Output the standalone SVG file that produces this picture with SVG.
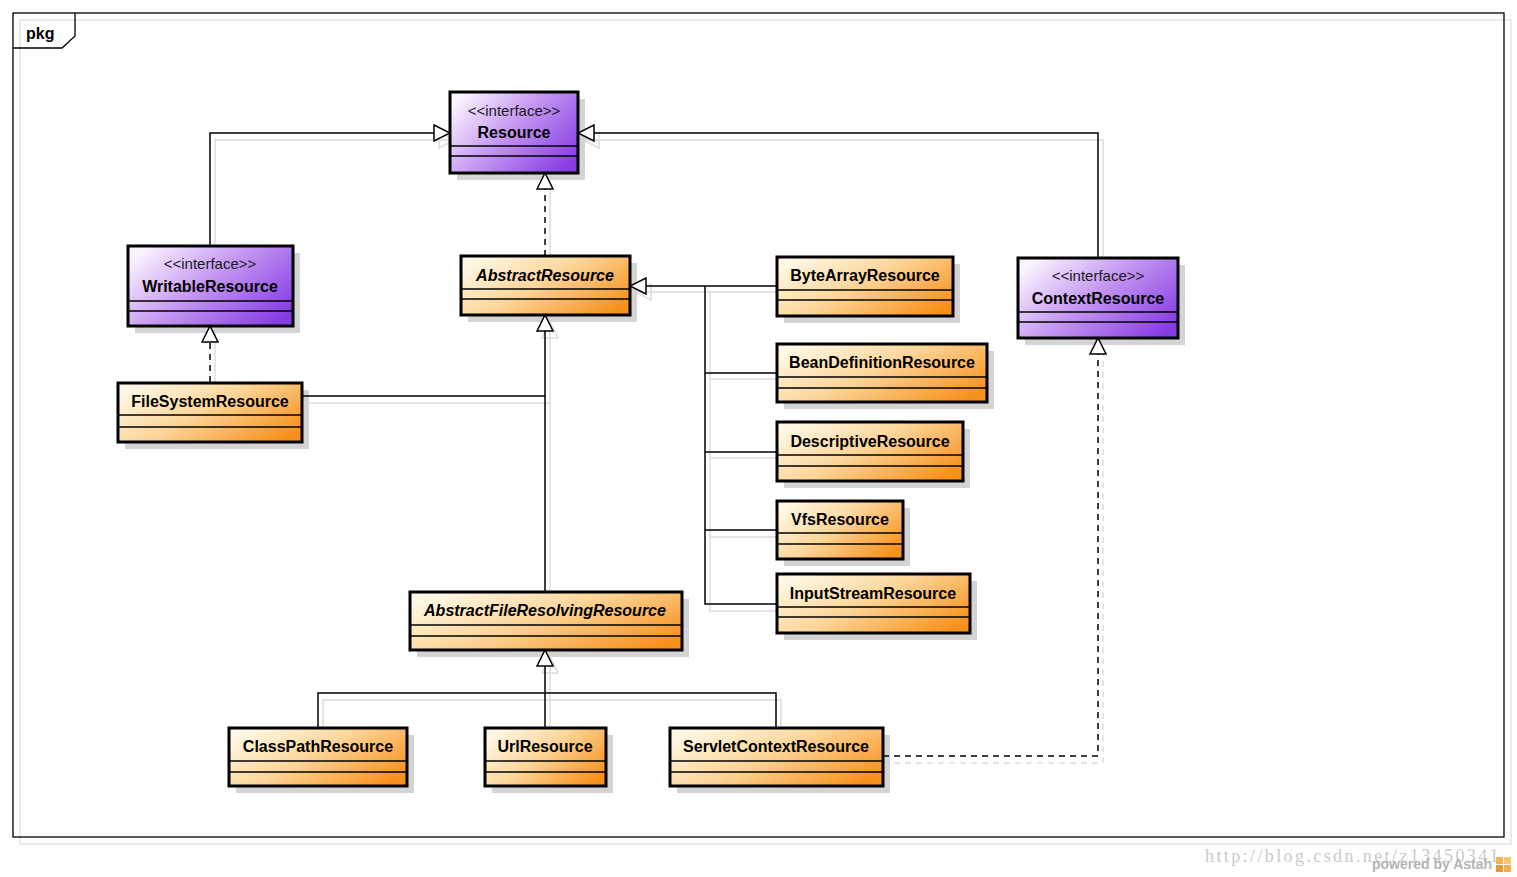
<svg xmlns="http://www.w3.org/2000/svg" width="1517" height="877" viewBox="0 0 1517 877">
<defs>
<linearGradient id="gO" x1="0" y1="0.2" x2="1" y2="0.8">
<stop offset="0" stop-color="#fff8e6"/>
<stop offset="0.45" stop-color="#fcd69a"/>
<stop offset="1" stop-color="#f7901a"/>
</linearGradient>
<linearGradient id="gP" x1="0" y1="0.2" x2="1" y2="0.8">
<stop offset="0" stop-color="#faf4ff"/>
<stop offset="0.45" stop-color="#c699f2"/>
<stop offset="1" stop-color="#873ce2"/>
</linearGradient>
<marker id="gen" viewBox="0 0 18 18" refX="17" refY="9" markerWidth="18" markerHeight="18" markerUnits="userSpaceOnUse" orient="auto">
<path d="M1,1 L17,9 L1,17 Z" fill="#fff" stroke="#000" stroke-width="1.5"/>
</marker>
<marker id="genS" viewBox="0 0 18 18" refX="17" refY="9" markerWidth="18" markerHeight="18" markerUnits="userSpaceOnUse" orient="auto">
<path d="M1,1 L17,9 L1,17 Z" fill="none" stroke="#dcdcdc" stroke-width="1.5"/>
</marker>
</defs>
<style>
.frame{fill:none;stroke:#000;stroke-width:1.3}
.fshadow{fill:none;stroke:#d6d6d6;stroke-width:1}
.sh{fill:#d4d4d4}
.box{stroke:#000;stroke-width:3}
.o{fill:url(#gO)}
.p{fill:url(#gP)}
.sep{stroke:#000;stroke-width:1.5}
.name{font-family:"Liberation Sans",Arial,sans-serif;font-size:16px;font-weight:bold;fill:#000;text-anchor:middle}
.abs{font-style:italic}
.st{font-family:"Liberation Sans",Arial,sans-serif;font-size:15px;fill:#1a1a1a;text-anchor:middle}
.c{fill:none;stroke:#000;stroke-width:1.5}
.d{stroke-dasharray:6,5}
.cs{fill:none;stroke:#dcdcdc;stroke-width:1.5}
.pkg{font-family:"Liberation Sans",Arial,sans-serif;font-size:16px;font-weight:bold;fill:#000}
.wm{font-family:"Liberation Serif","Times New Roman",serif;font-size:18px;letter-spacing:2.4px;fill:#cacaca}
.pw{font-family:"Liberation Sans",Arial,sans-serif;font-size:14px;font-weight:bold;fill:#b4b4b4}
</style>
<rect width="1517" height="877" fill="#fff"/>
<rect class="fshadow" x="20" y="20" width="1491" height="824"/>
<rect class="frame" x="13" y="13" width="1491" height="824"/>
<path class="frame" d="M13,48 L62,48 L75,36 L75,13"/>
<text class="pkg" x="26" y="39">pkg</text>

<g id="connector-shadows">
<path class="cs" d="M215,245 V140 H455" marker-end="url(#genS)"/>
<path class="cs" d="M1103,258 V140 H583" marker-end="url(#genS)"/>
<path class="cs" d="M550,256 V180"/>
<path class="cs" d="M215,382 V333"/>
<path class="cs" d="M302,403 H550 V322" marker-end="url(#genS)"/>
<path class="cs" d="M550,592 V403"/>
<path class="cs" d="M777,292 H635" marker-end="url(#genS)"/>
<path class="cs" d="M710,292 V611 H777"/>
<path class="cs" d="M710,379 H777 M710,458 H777 M710,537 H777"/>
<path class="cs" d="M550,728 V657" marker-end="url(#genS)"/>
<path class="cs" d="M323,728 V700 H781 V728"/>
<path class="cs d" d="M883,763 H1103 V345"/>
</g>

<g id="n-resource">
<rect class="sh" x="457" y="99" width="128" height="81"/>
<rect class="box p" x="450" y="92" width="128" height="81"/>
<line class="sep" x1="450" y1="146" x2="578" y2="146"/>
<line class="sep" x1="450" y1="156" x2="578" y2="156"/>
<text class="st" x="514" y="116">&lt;&lt;interface&gt;&gt;</text>
<text class="name" x="514" y="138">Resource</text>
</g>
<g id="n-writable">
<rect class="sh" x="135" y="253" width="165" height="80"/>
<rect class="box p" x="128" y="246" width="165" height="80"/>
<line class="sep" x1="128" y1="301" x2="293" y2="301"/>
<line class="sep" x1="128" y1="311" x2="293" y2="311"/>
<text class="st" x="210" y="269">&lt;&lt;interface&gt;&gt;</text>
<text class="name" x="210" y="292">WritableResource</text>
</g>
<g id="n-context">
<rect class="sh" x="1025" y="265" width="160" height="80"/>
<rect class="box p" x="1018" y="258" width="160" height="80"/>
<line class="sep" x1="1018" y1="312" x2="1178" y2="312"/>
<line class="sep" x1="1018" y1="322" x2="1178" y2="322"/>
<text class="st" x="1098" y="281">&lt;&lt;interface&gt;&gt;</text>
<text class="name" x="1098" y="304">ContextResource</text>
</g>
<g id="n-abstract">
<rect class="sh" x="468" y="263" width="169" height="59"/>
<rect class="box o" x="461" y="256" width="169" height="59"/>
<line class="sep" x1="461" y1="289" x2="630" y2="289"/>
<line class="sep" x1="461" y1="299" x2="630" y2="299"/>
<text class="name abs" x="545" y="281">AbstractResource</text>
</g>
<g id="n-bytearray">
<rect class="sh" x="784" y="264" width="176" height="59"/>
<rect class="box o" x="777" y="257" width="176" height="59"/>
<line class="sep" x1="777" y1="290" x2="953" y2="290"/>
<line class="sep" x1="777" y1="300" x2="953" y2="300"/>
<text class="name" x="865" y="281">ByteArrayResource</text>
</g>
<g id="n-beandef">
<rect class="sh" x="784" y="351" width="210" height="58"/>
<rect class="box o" x="777" y="344" width="210" height="58"/>
<line class="sep" x1="777" y1="377" x2="987" y2="377"/>
<line class="sep" x1="777" y1="388" x2="987" y2="388"/>
<text class="name" x="882" y="368">BeanDefinitionResource</text>
</g>
<g id="n-descriptive">
<rect class="sh" x="784" y="429" width="186" height="59"/>
<rect class="box o" x="777" y="422" width="186" height="59"/>
<line class="sep" x1="777" y1="455" x2="963" y2="455"/>
<line class="sep" x1="777" y1="466" x2="963" y2="466"/>
<text class="name" x="870" y="447">DescriptiveResource</text>
</g>
<g id="n-vfs">
<rect class="sh" x="784" y="508" width="126" height="58"/>
<rect class="box o" x="777" y="501" width="126" height="58"/>
<line class="sep" x1="777" y1="533" x2="903" y2="533"/>
<line class="sep" x1="777" y1="544" x2="903" y2="544"/>
<text class="name" x="840" y="525">VfsResource</text>
</g>
<g id="n-inputstream">
<rect class="sh" x="784" y="581" width="193" height="59"/>
<rect class="box o" x="777" y="574" width="193" height="59"/>
<line class="sep" x1="777" y1="607" x2="970" y2="607"/>
<line class="sep" x1="777" y1="617" x2="970" y2="617"/>
<text class="name" x="873" y="599">InputStreamResource</text>
</g>
<g id="n-filesystem">
<rect class="sh" x="125" y="390" width="184" height="59"/>
<rect class="box o" x="118" y="383" width="184" height="59"/>
<line class="sep" x1="118" y1="415" x2="302" y2="415"/>
<line class="sep" x1="118" y1="427" x2="302" y2="427"/>
<text class="name" x="210" y="407">FileSystemResource</text>
</g>
<g id="n-afr">
<rect class="sh" x="417" y="599" width="272" height="58"/>
<rect class="box o" x="410" y="592" width="272" height="58"/>
<line class="sep" x1="410" y1="625" x2="682" y2="625"/>
<line class="sep" x1="410" y1="636" x2="682" y2="636"/>
<text class="name abs" x="545" y="616">AbstractFileResolvingResource</text>
</g>
<g id="n-classpath">
<rect class="sh" x="236" y="735" width="178" height="58"/>
<rect class="box o" x="229" y="728" width="178" height="58"/>
<line class="sep" x1="229" y1="761" x2="407" y2="761"/>
<line class="sep" x1="229" y1="772" x2="407" y2="772"/>
<text class="name" x="318" y="752">ClassPathResource</text>
</g>
<g id="n-url">
<rect class="sh" x="492" y="735" width="121" height="58"/>
<rect class="box o" x="485" y="728" width="121" height="58"/>
<line class="sep" x1="485" y1="761" x2="606" y2="761"/>
<line class="sep" x1="485" y1="772" x2="606" y2="772"/>
<text class="name" x="545" y="752">UrlResource</text>
</g>
<g id="n-servlet">
<rect class="sh" x="677" y="735" width="213" height="58"/>
<rect class="box o" x="670" y="728" width="213" height="58"/>
<line class="sep" x1="670" y1="761" x2="883" y2="761"/>
<line class="sep" x1="670" y1="772" x2="883" y2="772"/>
<text class="name" x="776" y="752">ServletContextResource</text>
</g>

<g id="connectors">
<path class="c" d="M210,245 V133 H450" marker-end="url(#gen)"/>
<path class="c" d="M1098,258 V133 H578" marker-end="url(#gen)"/>
<path class="c d" d="M545,256 V173" marker-end="url(#gen)"/>
<path class="c d" d="M210,382 V326" marker-end="url(#gen)"/>
<path class="c" d="M302,396 H545 V315" marker-end="url(#gen)"/>
<path class="c" d="M545,592 V396"/>
<path class="c" d="M777,286 H630" marker-end="url(#gen)"/>
<path class="c" d="M705,286 V604 H777"/>
<path class="c" d="M705,373 H777 M705,452 H777 M705,530 H777"/>
<path class="c" d="M545,728 V650" marker-end="url(#gen)"/>
<path class="c" d="M318,728 V693 H776 V728"/>
<path class="c d" d="M883,756 H1098 V338" marker-end="url(#gen)"/>
</g>

<text class="wm" x="1205" y="862">http://blog.csdn.net/z13450341</text>
<text class="pw" x="1372" y="869">powered by Astah</text>
<rect x="1496" y="857" width="7" height="7" fill="#f5b04a"/>
<rect x="1504" y="857" width="7" height="7" fill="#f7c56e"/>
<rect x="1496" y="865" width="7" height="7" fill="#e89a30"/>
<rect x="1504" y="865" width="7" height="7" fill="#f0b050"/>
</svg>
